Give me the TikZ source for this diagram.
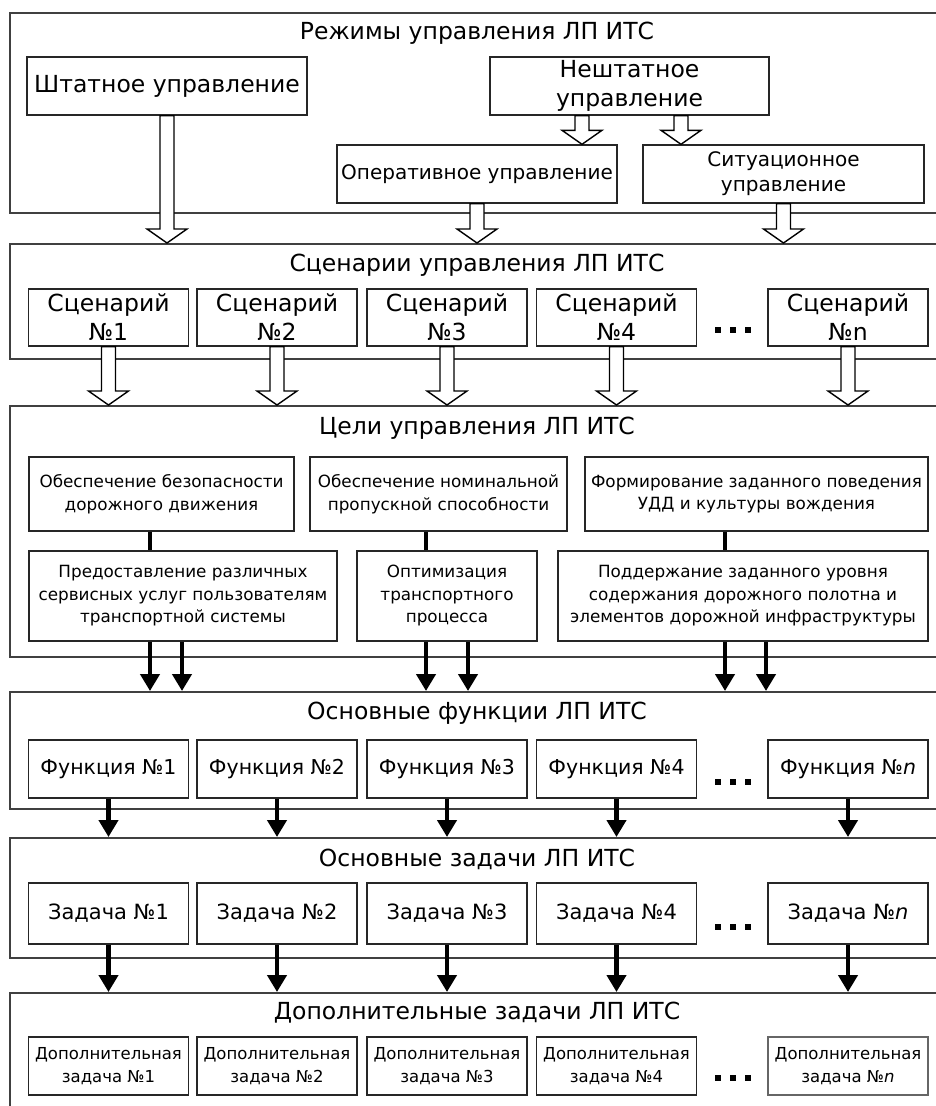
\documentclass[tikz,border=0pt]{standalone}
\usepackage{fontspec}
\setmainfont{DejaVu Sans}
\usetikzlibrary{arrows.meta,calc}

\tikzset{
  layer/.style={draw=black!75, line width=1.8pt, anchor=north west, inner sep=0pt},
  box/.style={draw=black!85, line width=1.4pt, fill=white, align=center, inner sep=1pt},
  big/.style={font=\fontsize{23.5}{29}\selectfont},
  mid/.style={font=\fontsize{20}{25}\selectfont},
  small/.style={font=\fontsize{16.8}{22.5}\selectfont},
  title/.style={font=\fontsize{23.5}{28}\selectfont},
  hollow/.style={draw=black, line width=1.4pt, fill=white, line join=miter},
  arr/.style={line width=4.5pt, -{Triangle[length=17pt,width=19pt]}},
  link/.style={line width=4.5pt},
  dotsbox/.style={inner sep=0pt}
}
% hollow block arrow from #1 straight down to the level of #2
\newcommand\hollowarrow[2]{%
  \path let \p1=(#1), \p2=(#1 |- #2) in
    [hollow] (\x1-7pt,\y1) -- (\x1-7pt,\y2+14pt) -- (\x1-20pt,\y2+14pt) -- (\x1,\y2)
    -- (\x1+20pt,\y2+14pt) -- (\x1+7pt,\y2+14pt) -- (\x1+7pt,\y1) -- cycle;}
\newcommand\threedots{\rule{6.5pt}{6.5pt}\hspace{8.5pt}\rule{6.5pt}{6.5pt}\hspace{8.5pt}\rule{6.5pt}{6.5pt}}

\begin{document}
\begin{tikzpicture}[x=1pt,y=-1pt]
    \useasboundingbox (0,0) rectangle (936,1106);
    \clip (0,0) rectangle (936,1106);

    % frames of the six levels
    \node[layer, minimum width=940, minimum height=200] (L1) at (9,12) {};
    \node[layer, minimum width=940, minimum height=115] (L2) at (9,243) {};
    \node[layer, minimum width=940, minimum height=251] (L3) at (9,405) {};
    \node[layer, minimum width=940, minimum height=117] (L4) at (9,691) {};
    \node[layer, minimum width=940, minimum height=120] (L5) at (9,837) {};
    \node[layer, minimum width=940, minimum height=130] (L6) at (9,992) {};

    \node[title] (t1) at (477,33) {Режимы управления ЛП ИТС};
    \node[title] (t2) at (477,265) {Сценарии управления ЛП ИТС};
    \node[title] (t3) at (477,428) {Цели управления ЛП ИТС};
    \node[title] (t4) at (477,713) {Основные функции ЛП ИТС};
    \node[title] (t5) at (477,859) {Основные задачи ЛП ИТС};
    \node[title] (t6) at (477,1013) {Дополнительные задачи ЛП ИТС};

    % modes
    \node[box, big, minimum width=280, minimum height=58] (sht) at (167,86) {Штатное управление};
    \node[box, big, minimum width=279, minimum height=58] (nesht) at (629.5,86) {Нештатное\\управление};
    \node[box, mid, minimum width=280, minimum height=58] (oper) at (477,174) {Оперативное управление};
    \node[box, mid, minimum width=281, minimum height=58] (sit) at (783.5,174) {Ситуационное\\управление};

    \hollowarrow{[xshift=-47.5pt]nesht.south}{oper.north}
    \hollowarrow{[xshift=51.5pt]nesht.south}{sit.north}
    \hollowarrow{sht.south}{L2.north}
    \hollowarrow{oper.south}{L2.north}
    \hollowarrow{sit.south}{L2.north}

    % scenarios
    \foreach \i/\x in {1/108.5,2/277,3/447,4/616.5}
        \node[box, big, minimum width=160, minimum height=57] (s\i) at (\x,317.5) {Сценарий\\№\i};
    \node[box, big, minimum width=160, minimum height=57] (sn) at (848,317.5) {Сценарий\\№n};
    \node[dotsbox] (sdots) at (733,330) {\threedots};
    \foreach \i in {1,2,3,4,n}
        {\hollowarrow{s\i.south}{L3.north}}

    % goals
    \node[box, small, minimum width=265, minimum height=74] (A) at (161.5,494) {Обеспечение безопасности\\дорожного движения};
    \node[box, small, minimum width=257, minimum height=74] (B) at (438.5,494) {Обеспечение номинальной\\пропускной способности};
    \node[box, small, minimum width=343, minimum height=74] (C) at (756.5,494) {Формирование заданного поведения\\УДД и культуры вождения};
    \node[box, small, minimum width=308, minimum height=90] (D) at (183,596) {Предоставление различных\\сервисных услуг пользователям\\транспортной системы};
    \node[box, small, minimum width=180, minimum height=90] (E) at (447,596) {Оптимизация\\транспортного\\процесса};
    \node[box, small, minimum width=370, minimum height=90] (F) at (743,596) {Поддержание заданного уровня\\содержания дорожного полотна и\\элементов дорожной инфраструктуры};

    \draw[link] ([xshift=-11.5pt]A.south) -- ([xshift=-11.5pt]A.south |- D.north);
    \draw[link] ([xshift=-12.5pt]B.south) -- ([xshift=-12.5pt]B.south |- E.north);
    \draw[link] ([xshift=-31.5pt]C.south) -- ([xshift=-31.5pt]C.south |- F.north);

    \draw[arr] ([xshift=-33pt]D.south) -- ([xshift=-33pt]D.south |- L4.north);
    \draw[arr] ([xshift=-1pt]D.south) -- ([xshift=-1pt]D.south |- L4.north);
    \draw[arr] ([xshift=-21pt]E.south) -- ([xshift=-21pt]E.south |- L4.north);
    \draw[arr] ([xshift=21pt]E.south) -- ([xshift=21pt]E.south |- L4.north);
    \draw[arr] ([xshift=-18pt]F.south) -- ([xshift=-18pt]F.south |- L4.north);
    \draw[arr] ([xshift=23pt]F.south) -- ([xshift=23pt]F.south |- L4.north);

    % functions
    \foreach \i/\x in {1/108.5,2/277,3/447,4/616.5}
        \node[box, mid, font=\fontsize{20.5}{25}\selectfont, minimum width=160, minimum height=58] (f\i) at (\x,769) {Функция №\i};
    \node[box, mid, font=\fontsize{20.5}{25}\selectfont, minimum width=160, minimum height=58] (fn) at (848,769) {Функция №\textit{n}};
    \node[dotsbox] (fdots) at (733,782) {\threedots};
    \foreach \i in {1,2,3,4,n}
        \draw[arr] (f\i.south) -- (f\i.south |- L5.north);

    % tasks
    \foreach \i/\x in {1/108.5,2/277,3/447,4/616.5}
        \node[box, mid, font=\fontsize{21}{25}\selectfont, minimum width=160, minimum height=61] (z\i) at (\x,913.5) {Задача №\i};
    \node[box, mid, font=\fontsize{21}{25}\selectfont, minimum width=160, minimum height=61] (zn) at (848,913.5) {Задача №\textit{n}};
    \node[dotsbox] (zdots) at (733,927) {\threedots};
    \foreach \i in {1,2,3,4,n}
        \draw[arr] (z\i.south) -- (z\i.south |- L6.north);

    % additional tasks
    \foreach \i/\x in {1/108.5,2/277,3/447,4/616.5}
        \node[box, small, font=\fontsize{16.5}{23}\selectfont, minimum width=160, minimum height=58] (d\i) at (\x,1066) {Дополнительная\\задача №\i};
    \node[box, small, font=\fontsize{16.5}{23}\selectfont, draw=black!60, minimum width=160, minimum height=58] (dn) at (848,1066) {Дополнительная\\задача №\textit{n}};
    \node[dotsbox] (ddots) at (733,1078) {\threedots};
\end{tikzpicture}
\end{document}
